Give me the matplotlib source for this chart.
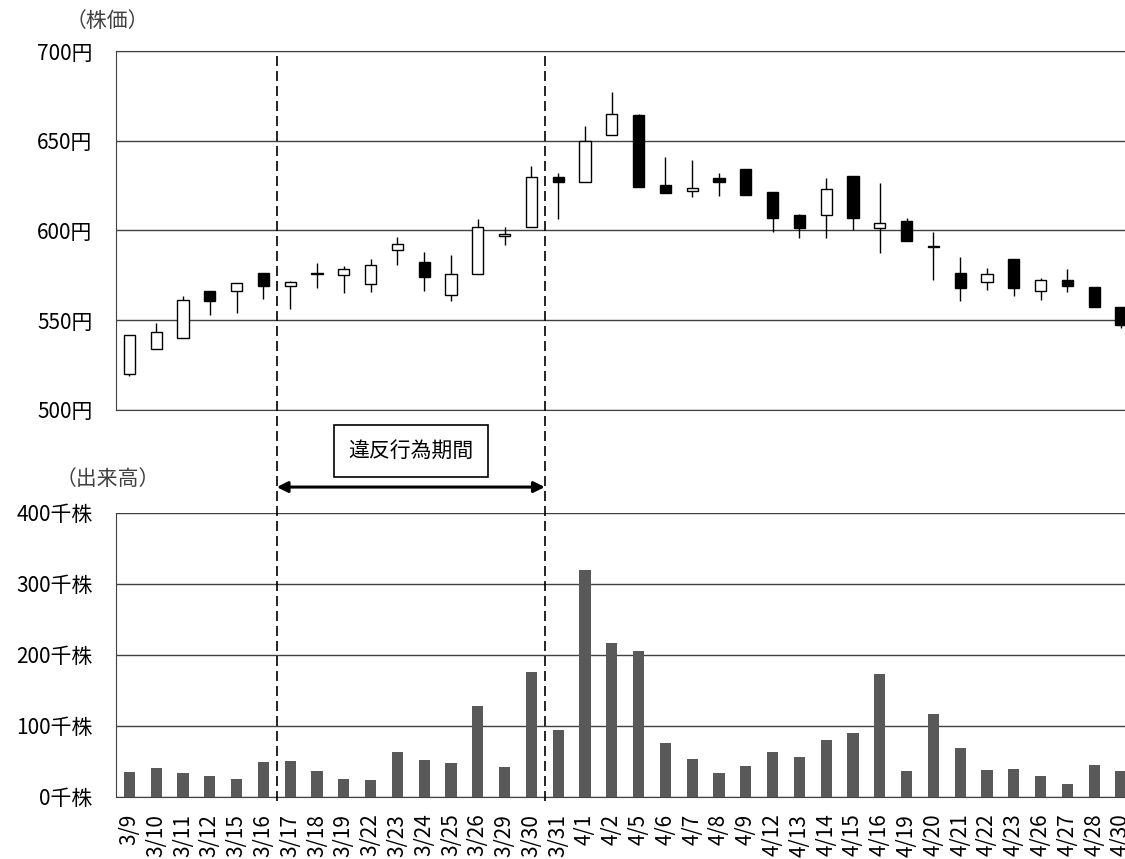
import matplotlib
matplotlib.use('Agg')
import matplotlib.pyplot as plt
import matplotlib.transforms as mtransforms
from matplotlib.lines import Line2D

plt.rcParams['font.family'] = ['Noto Sans CJK JP', 'DejaVu Sans']

# trading days
dates = ['3/9', '3/10', '3/11', '3/12', '3/15', '3/16', '3/17', '3/18', '3/19',
         '3/22', '3/23', '3/24', '3/25', '3/26', '3/29', '3/30', '3/31',
         '4/1', '4/2', '4/5', '4/6', '4/7', '4/8', '4/9', '4/12', '4/13',
         '4/14', '4/15', '4/16', '4/19', '4/20', '4/21', '4/22', '4/23',
         '4/26', '4/27', '4/28', '4/30']

# daily prices (yen)
open_p = [519.8, 533.8, 539.9, 566.2, 566.0, 576.3, 568.8, 575.6, 575.4,
          570.3, 589.2, 582.3, 564.0, 575.6, 597.0, 601.8, 630.0,
          627.0, 653.3, 664.3, 625.2, 622.0, 629.3, 634.3, 621.3, 608.5,
          608.5, 630.2, 601.3, 605.2, 591.2, 576.3, 571.3, 584.3,
          566.3, 572.4, 568.5, 557.4]
close_p = [541.8, 543.1, 561.2, 560.8, 570.5, 568.8, 571.3, 576.2, 578.4,
           580.6, 592.2, 573.9, 575.6, 602.0, 597.8, 629.8, 627.0,
           650.0, 665.2, 624.0, 621.1, 623.5, 627.0, 619.8, 607.0, 601.1,
           623.3, 607.0, 604.1, 593.9, 590.6, 568.1, 575.6, 568.1,
           572.4, 569.1, 557.0, 547.0]
high_p = [541.8, 548.1, 563.2, 566.2, 570.5, 576.3, 571.8, 581.9, 580.2,
          584.1, 596.3, 588.2, 586.4, 606.5, 602.0, 636.0, 631.9,
          658.1, 677.0, 664.8, 641.1, 639.3, 631.9, 634.3, 621.3, 609.0,
          629.3, 630.2, 626.3, 606.9, 599.3, 585.4, 579.1, 584.3,
          573.3, 578.5, 568.5, 557.4]
low_p = [519.0, 533.8, 539.9, 553.0, 554.1, 561.9, 556.0, 568.1, 565.3,
         565.9, 580.6, 566.0, 560.4, 575.6, 591.6, 601.8, 606.3,
         627.0, 653.3, 624.0, 621.0, 618.5, 619.3, 619.8, 599.4, 595.6,
         595.6, 600.0, 587.2, 593.9, 572.2, 560.6, 567.0, 563.3,
         561.3, 565.5, 557.0, 545.5]

# volume (thousand shares)
volume = [35, 41, 34, 30, 25, 49, 51, 37, 25, 24, 63, 52, 48, 128, 42, 176, 94,
          320, 217, 206, 76, 54, 34, 44, 63, 56, 80, 90, 173, 37, 117, 69,
          38, 39, 30, 18, 45, 37]

price_ticks = [500, 550, 600, 650, 700]
vol_ticks = [0, 100, 200, 300, 400]
period = (5.5, 15.5)   # between 3/16-3/17 and 3/30-3/31

grid_c = '#404040'
x = list(range(len(dates)))

fig = plt.figure(figsize=(11.25, 8.59), dpi=100)
ax1 = fig.add_axes([0.1031, 0.5231, 0.9052, 0.4173])
ax2 = fig.add_axes([0.1031, 0.0722, 0.9052, 0.3306])

# candles
for i in x:
    o, c = open_p[i], close_p[i]
    ax1.vlines(i, low_p[i], high_p[i], color='black', lw=1.0, zorder=2)
    face = 'white' if c >= o else 'black'
    ax1.bar(i, abs(c - o), bottom=min(o, c), width=0.42, color=face,
            edgecolor='black', linewidth=1.0, zorder=3)

ax1.set_xlim(-0.5, len(dates) - 0.5)
ax1.set_ylim(500, 700)
ax1.set_yticks(price_ticks)
ax1.set_yticklabels([f'{v}円' for v in price_ticks], fontsize=15)
ax1.set_xticks([])
ax1.yaxis.grid(True, color=grid_c, lw=1.0)
ax1.set_axisbelow(True)
for s in ['left', 'top', 'bottom', 'right']:
    ax1.spines[s].set_color(grid_c)
ax1.tick_params(axis='y', length=0, pad=17)

# volume bars
ax2.bar(x, volume, width=0.42, color='#595959', zorder=3)
ax2.set_xlim(-0.5, len(dates) - 0.5)
ax2.set_ylim(0, 400)
ax2.set_yticks(vol_ticks)
ax2.set_yticklabels([f'{v}千株' for v in vol_ticks], fontsize=15)
ax2.set_xticks(x)
ax2.set_xticklabels(dates, rotation=90, fontsize=15)
ax2.yaxis.grid(True, color=grid_c, lw=1.0)
ax2.set_axisbelow(True)
for s in ['top', 'right']:
    ax2.spines[s].set_visible(False)
for s in ['left', 'bottom']:
    ax2.spines[s].set_color(grid_c)
ax2.tick_params(axis='y', length=0, pad=17)
ax2.tick_params(axis='x', length=0, pad=12)

# dashed period markers across both panels
trans = mtransforms.blended_transform_factory(ax2.transData, fig.transFigure)
for xv in period:
    fig.add_artist(Line2D([xv, xv], [0.068, 0.9404], transform=trans,
                          color='black', lw=1.2, linestyle=(0, (6, 3)), zorder=5))

# arrow and label for the period
ax1.annotate('', xy=(period[0], 0.433), xytext=(period[1], 0.433),
             xycoords=('data', 'figure fraction'),
             textcoords=('data', 'figure fraction'),
             arrowprops=dict(arrowstyle='<|-|>', color='black', lw=2.2,
                             mutation_scale=16, shrinkA=0, shrinkB=0),
             annotation_clip=False)
ax1.text(sum(period) / 2, 0.475, '違反行為期間', fontsize=15,
         transform=mtransforms.blended_transform_factory(ax1.transData, fig.transFigure),
         ha='center', va='center',
         bbox=dict(boxstyle='square,pad=0.7', facecolor='white',
                   edgecolor='black', lw=1.2))

fig.text(107 / 1125, 1 - 21 / 859, '（株価）', fontsize=15, color='#404040',
         ha='center', va='center')
fig.text(108 / 1125, 1 - 479 / 859, '（出来高）', fontsize=15, color='#404040',
         ha='center', va='center')

fig.savefig('out.png', dpi=100)
